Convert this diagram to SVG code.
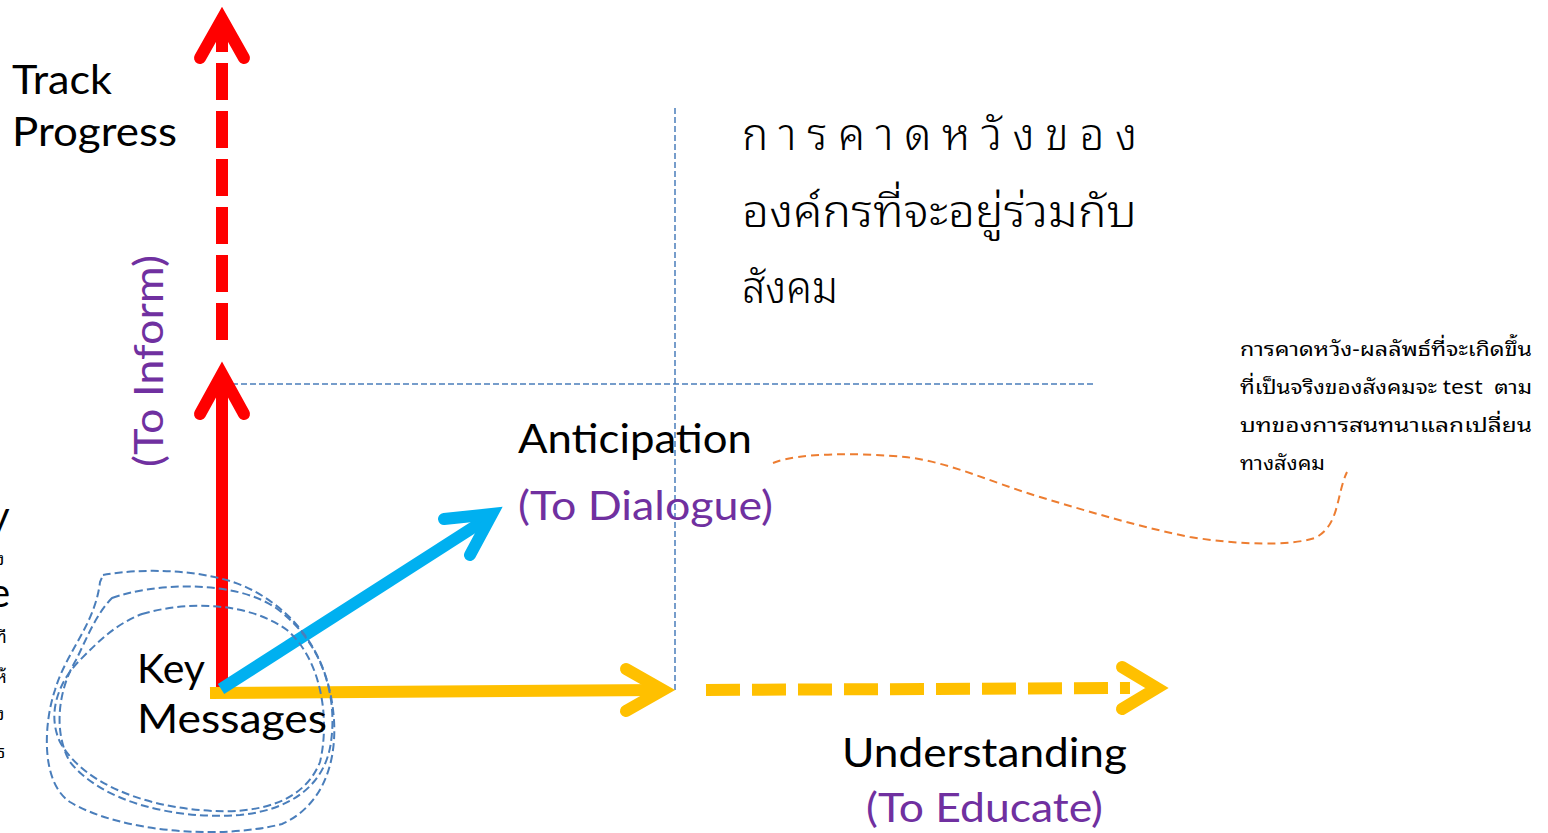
<svg xmlns="http://www.w3.org/2000/svg" width="1548" height="833" viewBox="0 0 1548 833">
<style>
.lbl{font-family:Lato,"Open Sans","Liberation Sans",sans-serif;font-size:40px;fill:#000}
.pur{fill:#7030a0}
.th{font-family:"Noto Sans Thai Looped","Tlwg Typo","Loma","Garuda","Noto Sans Thai","DejaVu Sans",sans-serif;fill:#000;font-weight:300}
.note{font-weight:400}
.guide{fill:none;stroke:#4a7ebb;stroke-width:1.5;stroke-dasharray:6 3}
.scrib{fill:none;stroke:#4a7ebb;stroke-width:2;stroke-dasharray:8 4}
.head{fill:none;stroke-linecap:round;stroke-linejoin:miter;stroke-width:12}
</style>
<rect width="1548" height="833" fill="#fff"/>

<g id="guides">
<line class="guide" x1="675" y1="108" x2="675" y2="693"/>
<line class="guide" x1="232" y1="384" x2="1095" y2="384"/>
</g>

<g id="connectors">
<!-- red solid arrow -->
<line x1="222" y1="690" x2="222" y2="378" stroke="#ff0000" stroke-width="12"/>
<polyline class="head" stroke="#ff0000" points="200,414 222,374 244,414"/>
<!-- red dashed arrow -->
<line x1="222" y1="340" x2="222" y2="22" stroke="#ff0000" stroke-width="12" stroke-dasharray="37 11"/>
<polyline class="head" stroke="#ff0000" points="200,58 222,19 244,58"/>
<!-- yellow solid arrow -->
<line x1="210" y1="693" x2="660" y2="690" stroke="#ffc000" stroke-width="12"/>
<polyline class="head" stroke="#ffc000" points="626,669 663,690 626,711"/>
<!-- yellow dashed arrow -->
<line x1="706" y1="690" x2="1130" y2="688" stroke="#ffc000" stroke-width="12" stroke-dasharray="34 12"/>
<polyline class="head" stroke="#ffc000" points="1122,667 1157,688 1122,709"/>
<!-- blue arrow -->
<line x1="221" y1="689" x2="488" y2="518" stroke="#00b0f0" stroke-width="12"/>
<polyline class="head" stroke="#00b0f0" stroke-linecap="butt" points="444,519 492,514 470,555"/>
<!-- orange dashed curve -->
<path d="M773,463 C800,452 860,453 905,457 C950,462 990,482 1040,497 C1090,512 1140,527 1190,537 C1240,545 1290,546 1315,538 C1340,525 1336,495 1347,472" fill="none" stroke="#ed7d31" stroke-width="2" stroke-dasharray="8 5"/>
</g>

<g id="key-messages">
<path class="scrib" d="M103,575 C140,568 210,568 252,590 C300,615 330,660 334,720 C337,770 318,808 282,824 C220,840 120,832 70,802 C40,782 44,722 55,690 C66,652 95,625 100,582 Z"/>
<path class="scrib" d="M112,598 C150,584 232,578 276,608 C320,640 338,692 331,742 C325,786 290,810 240,815 C170,820 100,800 70,762 C53,732 58,690 76,660 C86,640 96,614 112,598 Z"/>
<path class="scrib" d="M142,614 C190,600 250,603 287,630 C322,660 330,720 320,762 C305,800 262,816 200,810 C140,805 82,782 60,742 C46,712 60,680 80,660 C100,640 116,624 142,614 Z"/>
<text class="lbl" x="137" y="683" textLength="68" lengthAdjust="spacingAndGlyphs">Key</text>
<text class="lbl" x="137" y="733" textLength="190" lengthAdjust="spacingAndGlyphs">Messages</text>
</g>

<g id="track-progress">
<text class="lbl" x="12" y="94" textLength="100" lengthAdjust="spacingAndGlyphs">Track</text>
<text class="lbl" x="12" y="146" textLength="165" lengthAdjust="spacingAndGlyphs">Progress</text>
<text class="lbl pur" transform="translate(163,361) rotate(-90)" x="0" y="0" text-anchor="middle" textLength="212" lengthAdjust="spacingAndGlyphs">(To Inform)</text>
</g>

<g id="anticipation">
<text class="lbl" x="518" y="453" textLength="234" lengthAdjust="spacingAndGlyphs">Anticipation</text>
<text class="lbl pur" x="518" y="520" textLength="255" lengthAdjust="spacingAndGlyphs">(To Dialogue)</text>
</g>

<g id="understanding">
<text class="lbl" x="842" y="767" textLength="285" lengthAdjust="spacingAndGlyphs">Understanding</text>
<text class="lbl pur" x="866" y="822" textLength="237" lengthAdjust="spacingAndGlyphs">(To Educate)</text>
</g>

<g id="expectation">
<text class="th" font-size="44" x="742" y="150" textLength="395" lengthAdjust="spacing">การคาดหวังของ</text>
<text class="th" font-size="44" x="742" y="227" textLength="395" lengthAdjust="spacingAndGlyphs">องค์กรที่จะอยู่ร่วมกับ</text>
<text class="th" font-size="44" x="742" y="303" textLength="96" lengthAdjust="spacingAndGlyphs">สังคม</text>
</g>

<g id="note">
<text class="th note" font-size="20" x="1240" y="356" textLength="292" lengthAdjust="spacingAndGlyphs">การคาดหวัง-ผลลัพธ์ที่จะเกิดขึ้น</text>
<text class="th note" font-size="20" x="1240" y="394" textLength="292" lengthAdjust="spacingAndGlyphs" xml:space="preserve">ที่เป็นจริงของสังคมจะ test  ตาม</text>
<text class="th note" font-size="20" x="1240" y="432" textLength="292" lengthAdjust="spacingAndGlyphs">บทของการสนทนาแลกเปลี่ยน</text>
<text class="th note" font-size="20" x="1240" y="470" textLength="85" lengthAdjust="spacingAndGlyphs">ทางสังคม</text>
</g>

<g id="clipped-left">
<text class="lbl" font-size="34" x="-11" y="530">y</text>
<text class="th note" font-size="18" x="-5" y="565">ง</text>
<text class="lbl" font-size="34" x="-11" y="607">e</text>
<text class="th note" font-size="18" x="-5" y="643">ที</text>
<text class="th note" font-size="18" x="-5" y="683">ห้</text>
<text class="th note" font-size="18" x="-5" y="720">ง</text>
<text class="th note" font-size="18" x="-5" y="758">ธ</text>
</g>
</svg>
